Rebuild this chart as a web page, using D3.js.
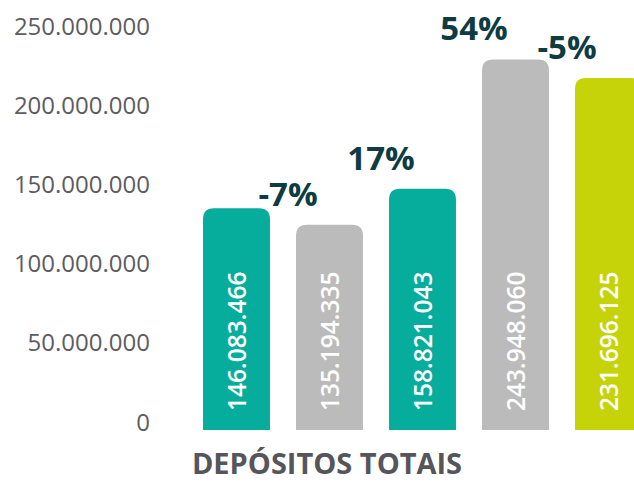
<!DOCTYPE html>
<meta charset="utf-8">

<!-- Load d3.js -->
<script src="https://d3js.org/d3.v7.min.js"></script>

<style>
  body { margin: 0; background: #fff; }
  text { font-family: "Open Sans", "DejaVu Sans", sans-serif; }
</style>

<svg id="chart" width="634" height="482"></svg>

<script>

    // Data
    const categories = ["p1", "p2", "p3", "p4", "p5"];
    const deposits = [146083466, 135194335, 158821043, 243948060, 231696125];
    const changes = [null, "-7%", "17%", "54%", "-5%"];
    const barColors = ["#07ad9c", "#bbbbbb", "#07ad9c", "#bbbbbb", "#c5d308"];
    const tickValues = [0, 50000000, 100000000, 150000000, 200000000, 250000000];
    const title = "DEPÓSITOS TOTAIS";

    const svg = d3.select("#chart");

    // number format with dots as thousands separator
    const locale = d3.formatLocale({ decimal: ",", thousands: ".", grouping: [3], currency: ["", ""] });
    const fmt = locale.format(",d");

    // Scales
    const x = d3.scaleBand()
      .domain(categories)
      .range([190, 655])
      .paddingInner(0.28)
      .paddingOuter(0.14);

    // axis labels and bars sit on slightly different baselines in the original
    const yAxisScale = d3.scaleLinear().domain([0, 250000000]).range([422.5, 26.5]);
    const y = d3.scaleLinear().domain([0, 250000000]).range([430, 50.3]);

    // Y axis
    const axis = svg.append("g")
      .attr("transform", "translate(150,0)")
      .call(d3.axisLeft(yAxisScale).tickValues(tickValues).tickFormat(fmt).tickSize(0).tickPadding(0));
    axis.select(".domain").remove();
    axis.selectAll("text")
      .style("font-family", "'Open Sans', sans-serif")
      .style("font-size", "24px")
      .attr("fill", "#5c5c61");

    // rounded-top bar path
    function barPath(x0, y0, w, h, r) {
      return `M${x0},${y0 + h}V${y0 + r}Q${x0},${y0} ${x0 + r},${y0}H${x0 + w - r}Q${x0 + w},${y0} ${x0 + w},${y0 + r}V${y0 + h}Z`;
    }

    const idx = d => categories.indexOf(d);

    const bars = svg.append("g")
      .selectAll("g")
      .data(categories)
      .join("g");

    bars.append("path")
      .attr("d", d => barPath(x(d), y(deposits[idx(d)]), x.bandwidth(), y(0) - y(deposits[idx(d)]), 11))
      .attr("fill", d => barColors[idx(d)]);

    // value labels inside the bars
    bars.append("text")
      .attr("transform", d => `translate(${x(d) + x.bandwidth() / 2 + 9},${y(0) - 19}) rotate(-90)`)
      .attr("fill", "#fff")
      .style("font-size", "24.5px")
      .style("font-weight", "600")
      .text(d => fmt(deposits[idx(d)]));

    // variation labels
    bars.filter(d => changes[idx(d)] !== null)
      .append("text")
      .attr("x", d => x(d) - 8)
      .attr("y", d => y(deposits[idx(d)]) - 19)
      .attr("text-anchor", "middle")
      .attr("fill", "#0e3c42")
      .style("font-size", "33px")
      .style("font-weight", "700")
      .text(d => changes[idx(d)]);

    // title
    svg.append("text")
      .attr("x", 327)
      .attr("y", 474)
      .attr("text-anchor", "middle")
      .attr("fill", "#55555a")
      .style("font-size", "29px")
      .style("font-weight", "700")
      .text(title);

</script>
